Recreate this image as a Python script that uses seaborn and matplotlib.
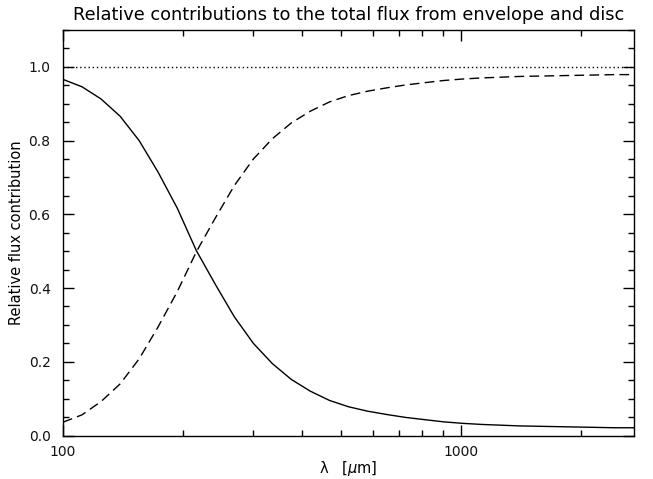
import matplotlib
matplotlib.use("Agg")
import matplotlib.pyplot as plt
import matplotlib.ticker as mticker
import pandas as pd
import seaborn as sns

# wavelength grid [micron] and relative flux contributions
wavelength = [100, 111.6, 124.6, 139.2, 155.4, 173.5, 193.7, 216.3, 241.5, 269.6,
              301, 336, 375, 419, 468, 522, 583, 651, 727, 811,
              906, 1011, 1129, 1260, 1407, 1571, 1754, 1959, 2187, 2441, 2726]
envelope = [0.966, 0.946, 0.913, 0.866, 0.800, 0.714, 0.617, 0.502, 0.410, 0.322,
            0.250, 0.195, 0.152, 0.120, 0.095, 0.078, 0.066, 0.057, 0.049, 0.043,
            0.037, 0.033, 0.030, 0.028, 0.026, 0.025, 0.024, 0.023, 0.022, 0.021, 0.021]
disc = [0.036, 0.056, 0.092, 0.140, 0.208, 0.295, 0.390, 0.498, 0.590, 0.678,
        0.750, 0.805, 0.848, 0.880, 0.905, 0.922, 0.934, 0.943, 0.951, 0.957,
        0.963, 0.967, 0.970, 0.972, 0.974, 0.975, 0.976, 0.977, 0.978, 0.979, 0.979]
total_level = 1.0

df = pd.DataFrame({"wavelength": wavelength, "envelope": envelope, "disc": disc})

sns.set_style("ticks")
plt.rcParams["font.family"] = ["DejaVu Sans"]
plt.rcParams["text.color"] = "black"
plt.rcParams["axes.labelcolor"] = "black"

fig, ax = plt.subplots(figsize=(6.53, 4.79), dpi=100)
fig.subplots_adjust(left=63 / 653, right=634 / 653, bottom=1 - 435.5 / 479, top=1 - 30 / 479)

sns.lineplot(data=df, x="wavelength", y="envelope", ax=ax, color="black", lw=1.0)
sns.lineplot(data=df, x="wavelength", y="disc", ax=ax, color="black", lw=1.0,
             linestyle=(0, (7, 3.8)))
ax.axhline(total_level, color="black", lw=1.0, linestyle=(0, (1, 2)))

ax.set_xscale("log")
ax.set_xlim(100, 2726)
ax.set_ylim(0, 1.1)

ax.xaxis.set_major_locator(mticker.LogLocator(base=10))
ax.xaxis.set_minor_locator(mticker.LogLocator(base=10, subs=range(2, 10)))
ax.xaxis.set_major_formatter(mticker.FuncFormatter(lambda v, p: f"{v:g}"))
ax.xaxis.set_minor_formatter(mticker.NullFormatter())
ax.yaxis.set_major_locator(mticker.MultipleLocator(0.2))
ax.yaxis.set_minor_locator(mticker.MultipleLocator(0.05))
ax.yaxis.set_major_formatter(mticker.FormatStrFormatter("%.1f"))

ax.tick_params(which="both", direction="in", top=True, right=True, color="black",
               width=1, labelcolor="#111111")
ax.tick_params(which="major", length=8)
ax.tick_params(which="minor", length=4.5)
ax.tick_params(axis="x", which="major", pad=7, labelsize=10)
ax.tick_params(axis="y", which="major", pad=9, labelsize=10)
for s in ax.spines.values():
    s.set_linewidth(1.0)
    s.set_color("black")

ax.set_title("Relative contributions to the total flux from envelope and disc",
             fontsize=12.8, pad=7)
ax.set_xlabel(r"λ   [$\mu$m]", fontsize=10.5, labelpad=0)
ax.set_ylabel("Relative flux contribution", fontsize=10.5, labelpad=3)

fig.savefig("out.png", dpi=100)
plt.close(fig)
